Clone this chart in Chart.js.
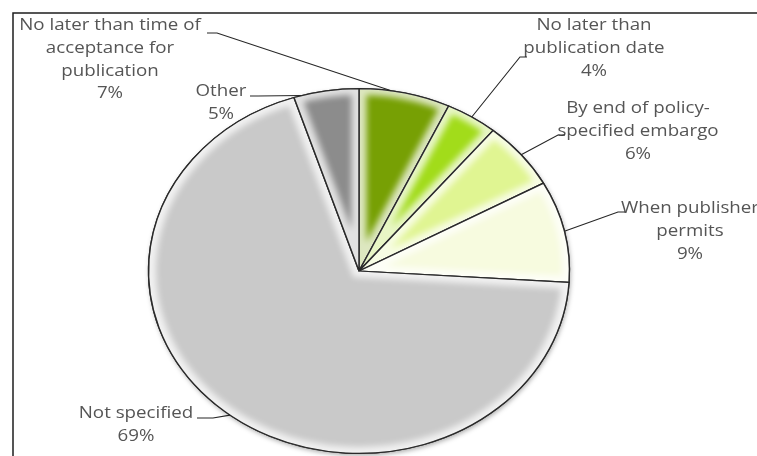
<!DOCTYPE html>
<html>
<head>
<meta charset="utf-8">
<script src="https://cdn.jsdelivr.net/npm/chart.js@4.4.1/dist/chart.umd.min.js"></script>
<style>
  html, body { margin: 0; padding: 0; background: #fff; }
  canvas { display: block; }
</style>
</head>
<body>
<canvas id="policyChart" width="757" height="456"></canvas>
<script>
// Deposit timing required by policies (share of policies)
const categories = [
    ['No later than time of', 'acceptance for', 'publication'],
    ['No later than', 'publication date'],
    ['By end of policy-', 'specified embargo'],
    ['When publisher', 'permits'],
    ['Not specified'],
    ['Other']
];
const shares = [7, 4, 6, 9, 69, 5];
const sliceColors = ['#77a004', '#a2dc1a', '#e0f592', '#f7fbdf', '#c9c9c9', '#8c8c8c'];

// label block placement: centre x, first baseline, leader line elbow,
// and where along the slice rim the leader line lands (0..1)
const labelSpots = [
    { x: 110, y: 30, from: [207, 33], elbow: [217, 33], at: 0.35 },
    { x: 594, y: 30, from: [527, 57], elbow: [520, 57], at: 0.5 },
    { x: 638, y: 113, from: [565, 135], elbow: [558, 135], at: 0.5 },
    { x: 690, y: 213, from: [625, 212], elbow: [618, 212], at: 0.5 },
    { x: 136, y: 418, from: [197, 418], elbow: [213, 418], at: 0.5 },
    { x: 221, y: 96, from: [250, 96], elbow: [258, 96], at: 0.12 }
];

const stretchX = 210 / 182;   // pie is drawn as a flattened ellipse
const textStretch = 1.17;
const lineHeight = 22.8;

function slicePath(a) {
    const p = new Path2D();
    p.moveTo(a.x, a.y);
    p.arc(a.x, a.y, a.outerRadius, a.startAngle, a.endAngle);
    p.closePath();
    return p;
}

const framePlugin = {
    id: 'frame',
    beforeDraw(chart) {
        const ctx = chart.ctx;
        ctx.save();
        ctx.strokeStyle = '#1e1e1e';
        ctx.lineWidth = 1.5;
        ctx.beginPath();
        ctx.moveTo(13, 460);
        ctx.lineTo(13, 13);
        ctx.lineTo(760, 13);
        ctx.stroke();
        ctx.restore();
    }
};

const ellipsePlugin = {
    id: 'ellipse',
    beforeDatasetsDraw(chart) {
        const ctx = chart.ctx;
        const a = chart.getDatasetMeta(0).data[0];
        ctx.save();
        ctx.translate(a.x, a.y);
        ctx.scale(stretchX, 1);
        ctx.translate(-a.x, -a.y);
        // soft drop shadow under the pie
        ctx.save();
        ctx.beginPath();
        ctx.arc(a.x, a.y, a.outerRadius, 0, Math.PI * 2);
        ctx.shadowColor = 'rgba(0,0,0,0.35)';
        ctx.shadowBlur = 5;
        ctx.shadowOffsetX = 1;
        ctx.shadowOffsetY = 2;
        ctx.fillStyle = '#fff';
        ctx.fill();
        ctx.restore();
    },
    afterDatasetsDraw(chart) {
        const ctx = chart.ctx;
        chart.getDatasetMeta(0).data.forEach(a => {
            const p = slicePath(a);
            // bevel highlight just inside the slice edges
            ctx.save();
            ctx.clip(p);
            ctx.filter = 'blur(3px)';
            ctx.strokeStyle = 'rgba(255,255,255,0.75)';
            ctx.lineWidth = 13;
            ctx.stroke(p);
            ctx.restore();
            ctx.save();
            ctx.strokeStyle = '#2a2a2a';
            ctx.lineWidth = 1.2;
            ctx.lineJoin = 'round';
            ctx.stroke(p);
            ctx.restore();
        });
        ctx.restore();
    }
};

const labelPlugin = {
    id: 'sliceLabels',
    afterDraw(chart) {
        const ctx = chart.ctx;
        const arcs = chart.getDatasetMeta(0).data;
        ctx.save();
        ctx.font = '16px "Open Sans"';
        ctx.fillStyle = '#555555';
        ctx.textAlign = 'center';
        ctx.textBaseline = 'alphabetic';
        arcs.forEach((a, i) => {
            const spot = labelSpots[i];
            const lines = categories[i].concat([shares[i] + '%']);
            lines.forEach((txt, k) => {
                ctx.save();
                ctx.translate(spot.x, spot.y + k * lineHeight);
                ctx.scale(textStretch, 1);
                ctx.fillText(txt, 0, 0);
                ctx.restore();
            });
            // leader line from label to the slice rim
            const ang = a.startAngle + (a.endAngle - a.startAngle) * spot.at;
            const ex = a.x + Math.cos(ang) * a.outerRadius * stretchX;
            const ey = a.y + Math.sin(ang) * a.outerRadius;
            ctx.strokeStyle = '#262626';
            ctx.lineWidth = 1.1;
            ctx.beginPath();
            ctx.moveTo(spot.from[0], spot.from[1]);
            ctx.lineTo(spot.elbow[0], spot.elbow[1]);
            ctx.lineTo(ex, ey);
            ctx.stroke();
        });
        ctx.restore();
    }
};

const ctx = document.getElementById('policyChart').getContext('2d');
new Chart(ctx, {
    type: 'pie',
    data: {
        labels: categories.map(c => c.join(' ')),
        datasets: [{
            data: shares,
            backgroundColor: sliceColors,
            borderColor: '#2a2a2a',
            borderWidth: 1.2,
            hoverOffset: 0
        }]
    },
    options: {
        responsive: false,
        animation: false,
        layout: {
            padding: { top: 88, bottom: 2, left: 100, right: 139 }
        },
        plugins: {
            legend: { display: false },
            tooltip: { enabled: false }
        }
    },
    plugins: [framePlugin, ellipsePlugin, labelPlugin]
});
</script>
</body>
</html>
